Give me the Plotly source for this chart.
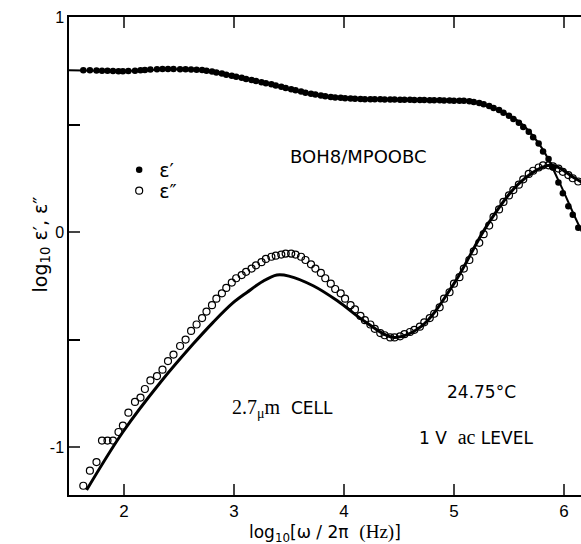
import plotly.graph_objects as go

# measurement frequencies, log10(omega/2pi / Hz)
freq = [
    1.63, 1.69, 1.75, 1.80, 1.85, 1.90, 1.95, 1.99, 2.04, 2.10,
    2.15, 2.19, 2.24, 2.30, 2.35, 2.40, 2.45, 2.51, 2.56, 2.61,
    2.66, 2.71, 2.75, 2.80, 2.84, 2.89, 2.93, 2.98, 3.02, 3.07,
    3.11, 3.16, 3.20, 3.25, 3.29, 3.34, 3.38, 3.43, 3.47, 3.52,
    3.56, 3.61, 3.65, 3.70, 3.74, 3.79, 3.83, 3.88, 3.92, 3.97,
    4.01, 4.06, 4.10, 4.15, 4.19, 4.24, 4.28, 4.33, 4.37, 4.42,
    4.46, 4.51, 4.55, 4.60, 4.64, 4.69, 4.73, 4.78, 4.82, 4.87,
    4.91, 4.96, 5.00, 5.05, 5.09, 5.14, 5.18, 5.23, 5.27, 5.32,
    5.36, 5.41, 5.45, 5.50, 5.54, 5.59, 5.63, 5.68, 5.72, 5.77,
    5.81, 5.86, 5.90, 5.95, 5.99, 6.04, 6.08, 6.13,
]

# log10 eps' (filled dots)
eps1 = [
    0.752, 0.752, 0.751, 0.750, 0.750, 0.749, 0.748, 0.748, 0.749, 0.750,
    0.752, 0.754, 0.756, 0.757, 0.758, 0.758, 0.758, 0.757, 0.757, 0.756,
    0.755, 0.753, 0.750, 0.746, 0.742, 0.737, 0.732, 0.727, 0.722, 0.717,
    0.712, 0.707, 0.702, 0.697, 0.692, 0.687, 0.681, 0.676, 0.670, 0.664,
    0.659, 0.653, 0.648, 0.643, 0.639, 0.635, 0.631, 0.628, 0.626, 0.624,
    0.622, 0.621, 0.620, 0.619, 0.618, 0.618, 0.617, 0.617, 0.616, 0.616,
    0.616, 0.615, 0.615, 0.615, 0.614, 0.614, 0.614, 0.613, 0.613, 0.613,
    0.612, 0.612, 0.611, 0.611, 0.610, 0.608, 0.605, 0.600, 0.594, 0.586,
    0.577, 0.567, 0.555, 0.541, 0.526, 0.508, 0.489, 0.466, 0.441, 0.412,
    0.375, 0.340, 0.300, 0.230, 0.180, 0.120, 0.080, 0.020,
]

# log10 eps'' (open circles)
eps2 = [
    -1.18, -1.11, -1.07, -0.97, -0.97, -0.97, -0.93, -0.90, -0.84, -0.79,
    -0.77, -0.73, -0.69, -0.67, -0.64, -0.60, -0.57, -0.53, -0.50, -0.46,
    -0.43, -0.40, -0.37, -0.34, -0.31, -0.285, -0.26, -0.235, -0.215, -0.20,
    -0.185, -0.17, -0.155, -0.14, -0.125, -0.115, -0.11, -0.105, -0.10, -0.10,
    -0.105, -0.115, -0.13, -0.15, -0.17, -0.19, -0.215, -0.24, -0.265, -0.285,
    -0.31, -0.34, -0.36, -0.39, -0.41, -0.43, -0.45, -0.47, -0.48, -0.49,
    -0.49, -0.485, -0.475, -0.465, -0.455, -0.44, -0.42, -0.40, -0.38, -0.35,
    -0.31, -0.28, -0.24, -0.21, -0.17, -0.13, -0.09, -0.05, -0.01, 0.03,
    0.07, 0.105, 0.14, 0.17, 0.195, 0.22, 0.245, 0.27, 0.285, 0.30,
    0.31, 0.31, 0.305, 0.295, 0.28, 0.265, 0.25, 0.235,
]

# fitted curves (solid lines)
fit1_x = [1.50, 2.0, 2.5, 2.8, 3.2, 3.6, 4.0, 4.5, 5.0, 5.2, 5.4, 5.6, 5.8, 5.95, 6.1, 6.2]
fit1_y = [0.752, 0.749, 0.757, 0.748, 0.702, 0.653, 0.622, 0.615, 0.612, 0.604, 0.57, 0.51, 0.39, 0.24, 0.07, -0.04]
fit2_x = [1.66, 1.99, 2.33, 2.63, 2.81, 2.99, 3.12, 3.26, 3.39, 3.5, 3.72, 3.94, 4.2, 4.45, 4.7, 5.0, 5.3, 5.6, 5.88, 6.1, 6.2]
fit2_y = [-1.20, -0.93, -0.70, -0.52, -0.42, -0.33, -0.28, -0.23, -0.20, -0.205, -0.25, -0.32, -0.42, -0.49, -0.44, -0.24, 0.03, 0.23, 0.31, 0.25, 0.22]

x_ticks = [2, 3, 4, 5, 6]
y_ticks = [-1, 0, 1]
y_ticklabels = ["-1", "0", "1"]

SANS = "Liberation Sans, Arial, sans-serif"
WIDE = "DejaVu Sans, sans-serif"
SERIF = "Liberation Serif, DejaVu Serif, serif"

fig = go.Figure()
fig.add_trace(go.Scatter(x=fit1_x, y=fit1_y, mode="lines", line=dict(color="black", width=2, shape="spline"),
                         showlegend=False, hoverinfo="skip"))
fig.add_trace(go.Scatter(x=fit2_x, y=fit2_y, mode="lines", line=dict(color="black", width=3, shape="spline"),
                         showlegend=False, hoverinfo="skip"))
fig.add_trace(go.Scatter(x=freq, y=eps1, mode="markers", name="ε′", legend="legend",
                         marker=dict(symbol="circle", size=6.5, color="black", line=dict(width=0))))
fig.add_trace(go.Scatter(x=freq, y=eps2, mode="markers", name="ε″", legend="legend2",
                         marker=dict(symbol="circle-open", size=7, color="black", line=dict(width=1.2))))

leg_common = dict(xanchor="left", yanchor="top", bgcolor="rgba(0,0,0,0)",
                  font=dict(size=19, family=WIDE), itemwidth=30)

fig.update_layout(
    width=581, height=544,
    margin=dict(l=69, r=0, t=17, b=49),
    paper_bgcolor="white", plot_bgcolor="white",
    font=dict(family=SANS, color="black", size=15),
    legend=dict(x=0.098, y=0.72, **leg_common),
    legend2=dict(x=0.098, y=0.676, **leg_common),
    xaxis=dict(range=[1.5, 6.155], tickvals=x_ticks, ticks="inside", ticklen=11, tickwidth=1.5,
               showline=True, linecolor="black", linewidth=1.5, mirror="ticks", showgrid=False,
               zeroline=False, tickfont=dict(size=17, family=SANS)),
    yaxis=dict(range=[-1.223, 1.0], tickvals=y_ticks, ticktext=y_ticklabels, ticks="inside", ticklen=11,
               tickwidth=1.5, showline=True, linecolor="black", linewidth=1.5, showgrid=False,
               zeroline=False, tickfont=dict(size=16, family=SANS),
               minor=dict(tickmode="array", tickvals=[-0.5, 0.5], ticks="inside", ticklen=11,
                          tickwidth=1.5, tickcolor="black", showgrid=False)),
)

def ann(text, x, y, size=17, **kw):
    fig.add_annotation(text=text, x=x, y=y, xref="x", yref="y", showarrow=False,
                       font=dict(size=size, family=WIDE, color="black"), **kw)

SER = f"font-family:{SERIF};font-size:20px"
ann("BOH8/MPOOBC", 4.13, 0.353, size=18)
ann(f'<span style="{SER}">2.7<sub>μ</sub>m</span>  CELL', 3.44, -0.823)
ann("24.75°C", 5.25, -0.744)
ann(f'1 V  <span style="{SER}">ac</span> LEVEL', 5.20, -0.953)

# axis titles
fig.add_annotation(text=f'log<sub>10</sub>[ω / 2π  <span style="font-family:{SERIF};font-size:19px">(Hz)</span>]',
                   x=(325 - 69) / 512, y=-(547 - 495) / 478, xref="paper", yref="paper", showarrow=False,
                   yanchor="bottom", font=dict(size=17, family=WIDE, color="black"))
fig.add_annotation(text='log<sub>10</sub> ε′, ε″',
                   x=-(69 - 26) / 512, y=(495 - 245) / 478, xref="paper", yref="paper", showarrow=False,
                   textangle=-90, font=dict(size=19, family=WIDE, color="black"))

fig.write_html("out.html")
